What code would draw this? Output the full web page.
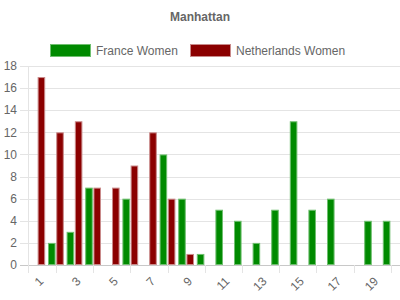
<!DOCTYPE html>
<html>
<head>
<meta charset="utf-8">
<script src="https://cdn.jsdelivr.net/npm/d3@7"></script>
<style>
  body { margin: 0; background: #fff; }
  text { font-family: "Liberation Sans", Arial, sans-serif; fill: #666; }
</style>
</head>
<body>
<div id="chart"></div>
<script>
var width = 400,
  height = 300;

// Categories and series
const categories = d3.range(1, 21).map(String);
const seriesNames = ["France Women", "Netherlands Women"];
const franceWomen = [0, 2, 3, 7, 0, 6, 0, 10, 6, 1, 5, 4, 2, 5, 13, 5, 6, 0, 4, 4];
const netherlandsWomen = [17, 12, 13, 7, 7, 9, 12, 6, 1, 0, 0, 0, 0, 0, 0, 0, 0, 0, 0, 0];
const yTicks = [0, 2, 4, 6, 8, 10, 12, 14, 16, 18];
const fills = ["#008a00", "#8b0000"];
const strokes = ["#6fbf6f", "#c98a8a"];

var margin = { top: 66, right: 0, bottom: 35, left: 28 };

var svg = d3
  .select("#chart")
  .append("svg")
  .attr("width", width)
  .attr("height", height);

// Title
svg
  .append("text")
  .attr("x", width / 2)
  .attr("y", 21)
  .attr("text-anchor", "middle")
  .style("font-size", "12px")
  .style("font-weight", "bold")
  .text("Manhattan");

// Scales
var x = d3
  .scaleBand()
  .domain(categories)
  .range([margin.left, width - margin.right])
  .paddingInner(0)
  .paddingOuter(0);

var xInner = d3
  .scaleBand()
  .domain(seriesNames)
  .range([0, x.bandwidth()])
  .paddingInner(0.08)
  .paddingOuter(0.17);

var y = d3
  .scaleLinear()
  .domain([0, 18])
  .range([height - margin.bottom, margin.top]);

// Horizontal grid + y labels
var grid = svg.append("g");
grid
  .selectAll("line")
  .data(yTicks)
  .enter()
  .append("line")
  .attr("x1", margin.left - 8)
  .attr("x2", width)
  .attr("y1", function (d) { return Math.round(y(d)) + 0.5; })
  .attr("y2", function (d) { return Math.round(y(d)) + 0.5; })
  .attr("stroke", function (d) { return d == 0 ? "#c8c8c8" : "#e4e4e4"; })
  .attr("stroke-width", 1);

svg
  .append("g")
  .selectAll("text")
  .data(yTicks)
  .enter()
  .append("text")
  .attr("x", margin.left - 11)
  .attr("y", function (d) { return y(d); })
  .attr("dy", "0.35em")
  .attr("text-anchor", "end")
  .style("font-size", "12px")
  .text(function (d) { return d; });

// y axis line
svg
  .append("line")
  .attr("x1", margin.left + 0.5)
  .attr("x2", margin.left + 0.5)
  .attr("y1", margin.top)
  .attr("y2", height - margin.bottom + 8)
  .attr("stroke", "#e4e4e4");

// x tick marks at even categories
svg
  .append("g")
  .selectAll("line")
  .data(categories.filter(function (d, i) { return i % 2 == 1; }))
  .enter()
  .append("line")
  .attr("x1", function (d) { return Math.round(x(d) + x.bandwidth() / 2) + 0.5; })
  .attr("x2", function (d) { return Math.round(x(d) + x.bandwidth() / 2) + 0.5; })
  .attr("y1", y(0))
  .attr("y2", y(0) + 8)
  .attr("stroke", "#e4e4e4");

// x labels at odd categories, rotated
svg
  .append("g")
  .selectAll("text")
  .data(categories.filter(function (d, i) { return i % 2 == 0; }))
  .enter()
  .append("text")
  .attr("transform", function (d) {
    return "translate(" + (x(d) + x.bandwidth() / 2 + 4) + "," + (y(0) + 14) + ") rotate(-45)";
  })
  .attr("text-anchor", "end")
  .attr("dy", "0.35em")
  .style("font-size", "12px")
  .text(function (d) { return d; });

// Bars
var allSeries = [franceWomen, netherlandsWomen];
var rows = [];
categories.forEach(function (c, i) {
  seriesNames.forEach(function (s, j) {
    if (allSeries[j][i] > 0) rows.push({ cat: c, s: s, j: j, v: allSeries[j][i] });
  });
});

svg
  .append("g")
  .selectAll("rect")
  .data(rows)
  .enter()
  .append("rect")
  .attr("x", function (d) { return x(d.cat) + xInner(d.s) + 0.5; })
  .attr("y", function (d) { return y(d.v) + 0.5; })
  .attr("width", xInner.bandwidth() - 1)
  .attr("height", function (d) { return y(0) - y(d.v) - 1; })
  .attr("fill", function (d) { return fills[d.j]; })
  .attr("stroke", function (d) { return strokes[d.j]; })
  .attr("stroke-width", 1);

// Legend
var legendX = [50, 190];
seriesNames.forEach(function (s, j) {
  svg
    .append("rect")
    .attr("x", legendX[j] + 0.5)
    .attr("y", 44.5)
    .attr("width", 40)
    .attr("height", 12)
    .attr("fill", fills[j])
    .attr("stroke", strokes[j]);
  svg
    .append("text")
    .attr("x", legendX[j] + 46)
    .attr("y", 50.5)
    .attr("dy", "0.35em")
    .style("font-size", "12px")
    .text(s);
});
</script>
</body>
</html>
